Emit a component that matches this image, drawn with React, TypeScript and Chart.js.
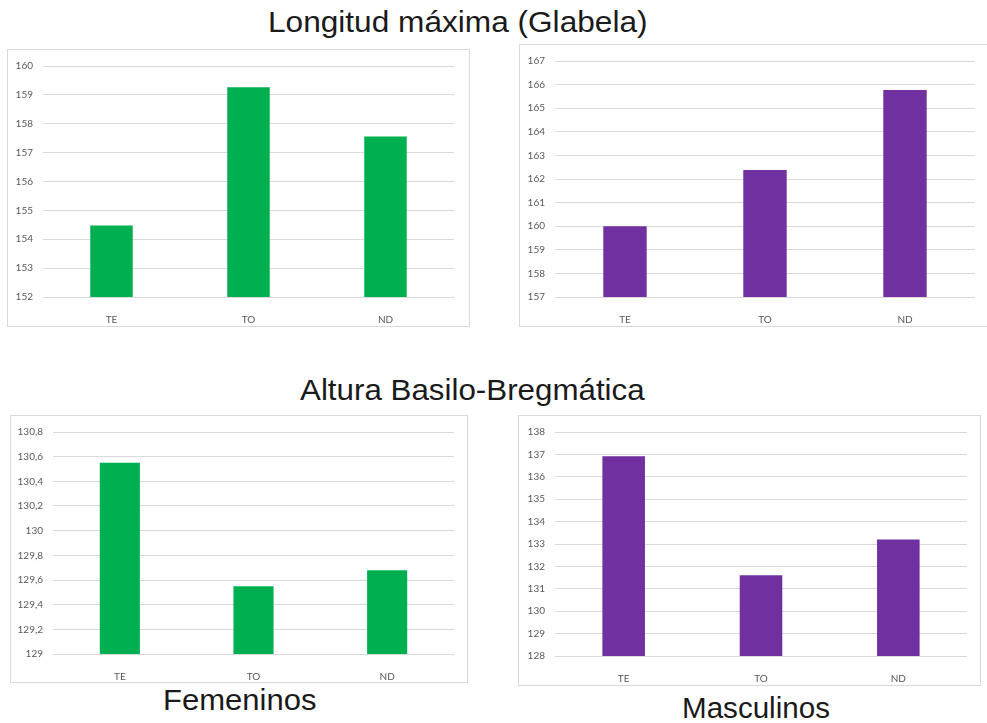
import React, { useEffect, useRef } from "react";
import { Chart, registerables } from "chart.js";

Chart.register(...registerables);

const categories = ["TE", "TO", "ND"];

const longitudFem = [154.48, 159.26, 157.56];
const longitudMasc = [160.0, 162.38, 165.77];
const alturaFem = [130.55, 129.55, 129.68];
const alturaMasc = [136.92, 131.6, 133.2];

const longitudFemAxis = { min: 152, max: 160, step: 1 };
const longitudMascAxis = { min: 157, max: 167, step: 1 };
const alturaFemAxis = { min: 129, max: 130.8, step: 0.2 };
const alturaMascAxis = { min: 128, max: 138, step: 1 };

const titleTop = "Longitud máxima (Glabela)";
const titleMiddle = "Altura Basilo-Bregmática";
const labelFem = "Femeninos";
const labelMasc = "Masculinos";

const GREEN = "#00B050";
const PURPLE = "#7030A0";

type Geo = {
  left: number;
  top: number;
  width: number;
  height: number;
  yw: number;
  xh: number;
  padTop: number;
  padRight: number;
};

function BarChart(props: {
  values: number[];
  axis: { min: number; max: number; step: number };
  color: string;
  comma?: boolean;
  geo: Geo;
  barPct: number;
}) {
  const ref = useRef<HTMLCanvasElement | null>(null);
  const { values, axis, color, comma, geo, barPct } = props;
  useEffect(() => {
    if (!ref.current) return;
    const chart = new Chart(ref.current, {
      type: "bar",
      data: {
        labels: categories,
        datasets: [
          {
            data: values,
            backgroundColor: color,
            barPercentage: barPct,
            categoryPercentage: 1,
          },
        ],
      },
      options: {
        animation: false,
        responsive: false,
        maintainAspectRatio: false,
        layout: {
          padding: { top: geo.padTop, right: geo.padRight, left: 0, bottom: 0 },
        },
        plugins: { legend: { display: false }, tooltip: { enabled: false } },
        scales: {
          x: {
            grid: { display: false },
            border: { display: false },
            ticks: {
              color: "#595959",
              font: { family: "Lato", size: 10 },
              padding: 9,
            },
            afterFit: (s: any) => {
              s.height = geo.xh;
            },
          },
          y: {
            min: axis.min,
            max: axis.max,
            grid: { color: "#d9d9d9", drawTicks: false, lineWidth: 1 },
            border: { display: false },
            ticks: {
              stepSize: axis.step,
              color: "#595959",
              font: { family: "Lato", size: 10 },
              padding: 10,
              callback: (v: any) => {
                const n = Math.round(Number(v) * 10) / 10;
                const s = String(n);
                return comma ? s.replace(".", ",") : s;
              },
            },
            afterFit: (s: any) => {
              s.width = geo.yw;
            },
          },
        },
      },
    });
    return () => chart.destroy();
  }, []);
  return (
    <div
      style={{
        position: "absolute",
        left: geo.left,
        top: geo.top,
        width: geo.width,
        height: geo.height,
        border: "1px solid #d9d9d9",
        boxSizing: "border-box",
        background: "#fff",
      }}
    >
      <canvas
        ref={ref}
        width={geo.width - 2}
        height={geo.height - 2}
        style={{ display: "block", width: geo.width - 2, height: geo.height - 2 }}
      />
    </div>
  );
}

function Label(props: { text: string; left: number; top: number; sx: number }) {
  return (
    <div
      style={{
        position: "absolute",
        left: props.left,
        top: props.top,
        fontFamily: "'Liberation Sans', Arial, sans-serif",
        fontSize: 29,
        lineHeight: "29px",
        color: "#1a1a1a",
        whiteSpace: "nowrap",
        transform: `scaleX(${props.sx})`,
        transformOrigin: "left top",
      }}
    >
      {props.text}
    </div>
  );
}

export default function App() {
  return (
    <div
      style={{
        position: "fixed",
        left: 0,
        top: 0,
        width: 987,
        height: 723,
        overflow: "hidden",
        background: "#fff",
      }}
    >
      <Label text={titleTop} left={268} top={8} sx={1.09} />
      <Label text={titleMiddle} left={300} top={376} sx={1.08} />
      <Label text={labelFem} left={163} top={686} sx={1.07} />
      <Label text={labelMasc} left={682} top={694} sx={1.02} />
      <BarChart
        values={longitudFem}
        axis={longitudFemAxis}
        color={GREEN}
        barPct={0.31}
        geo={{ left: 7, top: 49, width: 463, height: 278, yw: 35, xh: 29, padTop: 13, padRight: 15 }}
      />
      <BarChart
        values={longitudMasc}
        axis={longitudMascAxis}
        color={PURPLE}
        barPct={0.31}
        geo={{ left: 519, top: 44, width: 469, height: 283, yw: 35, xh: 29, padTop: 13, padRight: 12 }}
      />
      <BarChart
        values={alturaFem}
        axis={alturaFemAxis}
        color={GREEN}
        comma
        barPct={0.3}
        geo={{ left: 10, top: 415, width: 458, height: 268, yw: 42, xh: 28, padTop: 12, padRight: 13 }}
      />
      <BarChart
        values={alturaMasc}
        axis={alturaMascAxis}
        color={PURPLE}
        barPct={0.31}
        geo={{ left: 518, top: 415, width: 463, height: 271, yw: 36, xh: 29, padTop: 13, padRight: 13 }}
      />
    </div>
  );
}
